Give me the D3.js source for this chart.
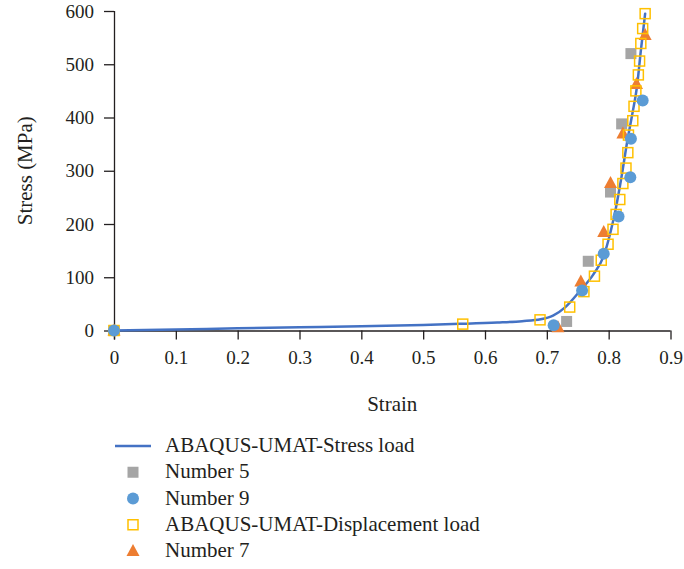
<!DOCTYPE html>
<html>
<head>
<meta charset="utf-8">
<script src="https://cdn.jsdelivr.net/npm/d3@7/dist/d3.min.js"></script>
<style>
  html, body { margin: 0; padding: 0; background: #fff; }
  svg text { font-family: "Liberation Serif", "DejaVu Serif", serif; fill: #231f20; }
</style>
</head>
<body>
<svg id="chart" width="684" height="569"></svg>
<script>
// Strain (x) vs stress in MPa (y)
const stressLoadCurve = [
  [0, 0], [0.1, 2], [0.2, 4], [0.3, 6], [0.4, 8], [0.5, 10.5], [0.56, 12.5],
  [0.62, 15], [0.66, 17.5], [0.69, 21], [0.71, 28], [0.73, 44], [0.754, 75],
  [0.775, 105], [0.792, 140], [0.803, 185], [0.811, 226], [0.821, 290],
  [0.830, 355], [0.838, 405], [0.846, 460], [0.852, 525], [0.859, 595]
];
const number5 = [
  [0, 0], [0.732, 17], [0.767, 130], [0.803, 260], [0.821, 388], [0.836, 520]
];
const number9 = [
  [0, 0], [0.711, 10], [0.757, 75], [0.792, 144], [0.816, 214], [0.835, 288],
  [0.836, 360], [0.855, 432]
];
const displacementLoad = [
  [0, 0], [0.564, 12], [0.689, 20], [0.737, 44], [0.760, 73], [0.777, 102],
  [0.788, 132], [0.799, 162], [0.807, 190], [0.812, 218], [0.818, 246],
  [0.823, 276], [0.828, 305], [0.831, 334], [0.832, 367], [0.839, 394],
  [0.841, 421], [0.844, 450], [0.848, 480], [0.850, 506], [0.852, 539],
  [0.855, 567], [0.859, 595]
];
const number7 = [
  [0, 0], [0.718, 6], [0.755, 92], [0.792, 185], [0.803, 277], [0.823, 370],
  [0.845, 463], [0.859, 555]
];
const xTicks = [0, 0.1, 0.2, 0.3, 0.4, 0.5, 0.6, 0.7, 0.8, 0.9];
const yTicks = [0, 100, 200, 300, 400, 500, 600];
const legendItems = [
  { label: "ABAQUS-UMAT-Stress load", kind: "line" },
  { label: "Number 5", kind: "graySquare" },
  { label: "Number 9", kind: "circle" },
  { label: "ABAQUS-UMAT-Displacement load", kind: "openSquare" },
  { label: "Number 7", kind: "triangle" }
];

const colors = {
  line: "#4472c4",
  graySquare: "#a5a5a5",
  circle: "#5b9bd5",
  openSquare: "#ffc000",
  triangle: "#ed7d31",
  axis: "#231f20"
};

const svg = d3.select("#chart");
const plot = { left: 114, right: 670.5, top: 11, bottom: 330.5 };

const x = d3.scaleLinear().domain([0, 0.9]).range([plot.left, plot.right]);
const y = d3.scaleLinear().domain([0, 600]).range([plot.bottom, plot.top]);

// Axes
const xAxis = svg.append("g")
  .attr("transform", `translate(0,${plot.bottom})`)
  .call(d3.axisBottom(x).tickValues(xTicks).tickSize(9).tickPadding(11)
    .tickFormat(d => d === 0 ? "0" : d3.format(".1f")(d)));
const yAxis = svg.append("g")
  .attr("transform", `translate(${plot.left},0)`)
  .call(d3.axisLeft(y).tickValues(yTicks).tickSize(10).tickPadding(10));

[xAxis, yAxis].forEach(g => {
  g.select(".domain").attr("stroke", colors.axis).attr("stroke-width", 1.3);
  g.selectAll(".tick line").attr("stroke", colors.axis).attr("stroke-width", 1.3);
  g.selectAll(".tick text").attr("font-size", 19)
    .attr("font-family", "Liberation Serif, DejaVu Serif, serif").attr("fill", colors.axis);
});
// Plain domain lines without end caps
xAxis.select(".domain").attr("d", `M${plot.left},0.5H${plot.right}`);
yAxis.select(".domain").attr("d", `M0.5,${plot.top}V${plot.bottom + 9}`);

// Axis titles
svg.append("text")
  .attr("x", (plot.left + plot.right) / 2)
  .attr("y", 411)
  .attr("text-anchor", "middle")
  .attr("font-size", 21)
  .text("Strain");
svg.append("text")
  .attr("transform", `translate(32,${(plot.top + plot.bottom) / 2}) rotate(-90)`)
  .attr("text-anchor", "middle")
  .attr("font-size", 21)
  .text("Stress (MPa)");

// Marker shapes
function drawMarker(g, kind, cx, cy) {
  if (kind === "graySquare") {
    g.append("rect").attr("x", cx - 5.5).attr("y", cy - 5.5)
      .attr("width", 11).attr("height", 11).attr("fill", colors.graySquare);
  } else if (kind === "circle") {
    g.append("circle").attr("cx", cx).attr("cy", cy).attr("r", 6)
      .attr("fill", colors.circle);
  } else if (kind === "openSquare") {
    g.append("rect").attr("x", cx - 5).attr("y", cy - 5)
      .attr("width", 10).attr("height", 10).attr("fill", "none")
      .attr("stroke", colors.openSquare).attr("stroke-width", 1.5);
  } else if (kind === "triangle") {
    g.append("path")
      .attr("d", `M${cx},${cy - 7}L${cx + 6.5},${cy + 5}L${cx - 6.5},${cy + 5}Z`)
      .attr("fill", colors.triangle);
  }
}

const marks = svg.append("g");

// Stress-load curve
const line = d3.line().x(d => x(d[0])).y(d => y(d[1])).curve(d3.curveMonotoneX);
marks.append("path")
  .datum(stressLoadCurve)
  .attr("d", line)
  .attr("fill", "none")
  .attr("stroke", colors.line)
  .attr("stroke-width", 2.5)
  .attr("stroke-linecap", "round");

// Point series, drawn bottom to top
const seriesOrder = [
  { data: number5, kind: "graySquare" },
  { data: number7, kind: "triangle" },
  { data: displacementLoad, kind: "openSquare" },
  { data: number9, kind: "circle" }
];
seriesOrder.forEach(s => {
  const g = marks.append("g");
  s.data.forEach(d => drawMarker(g, s.kind, x(d[0]), y(d[1])));
});

// Legend
const legend = svg.append("g");
legendItems.forEach((item, i) => {
  const cy = 446 + i * 26.25;
  const g = legend.append("g");
  if (item.kind === "line") {
    g.append("line").attr("x1", 115).attr("x2", 151).attr("y1", cy).attr("y2", cy)
      .attr("stroke", colors.line).attr("stroke-width", 2.5);
  } else {
    drawMarker(g, item.kind, 133, cy);
  }
  g.append("text").attr("x", 165).attr("y", cy + 6).attr("font-size", 21)
    .text(item.label);
});
</script>
</body>
</html>
